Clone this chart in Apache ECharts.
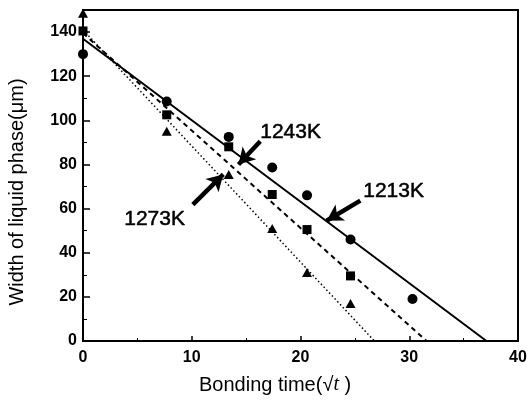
<!DOCTYPE html>
<html>
<head>
<meta charset="utf-8">
<script src="https://cdn.jsdelivr.net/npm/echarts@6/dist/echarts.min.js"></script>
<style>html,body{margin:0;padding:0;background:#fff}#c{width:530px;height:408px}</style>
</head>
<body>
<div id="c"></div>
<script>
// Measured points (x = sqrt(t), y = width of liquid phase, µm)
const data1213 = [[0,130],[7.7,108.5],[13.4,92.5],[17.4,78.6],[20.6,66],[24.6,46],[30.3,19]];
const data1243 = [[0,140.5],[7.7,102.5],[13.4,88],[17.4,66.4],[20.6,50.5],[24.6,29.5]];
const data1273 = [[0,148.5],[7.7,95],[13.4,75.5],[17.4,51],[20.6,31],[24.6,17]];
// Fitted lines (endpoints)
const fit1213 = [[0,137],[37.1,0]];
const fit1243 = [[0,139.5],[31.6,0]];
const fit1273 = [[0,141],[26.8,0]];
// Annotation arrows (tail -> head) in data coords
const arrows = [
  [[16.3,90.5],[14.3,80]],
  [[25.5,63.6],[22.4,54.5]],
  [[10.1,61.8],[12.9,75.5]]
];
const xTicks = {min:0, max:40, interval:10};
const yTicks = {min:0, max:150, interval:20};

const chart = echarts.init(document.getElementById('c'), null, {renderer:'canvas'});
const lab = {color:'#000', fontFamily:'Liberation Sans, Arial, sans-serif', fontWeight:'bold', fontSize:16};
const ann = {fill:'#000', font:'21px "Liberation Sans", Arial, sans-serif', stroke:'#000', lineWidth:0.5};
chart.setOption({
  animation:false,
  backgroundColor:'#fff',
  grid:{left:83, right:12, top:10, bottom:67, show:true, borderColor:'#000', borderWidth:2, backgroundColor:'transparent'},
  xAxis:{type:'value', min:xTicks.min, max:xTicks.max, interval:xTicks.interval,
    axisLine:{lineStyle:{color:'#000', width:2}},
    axisTick:{inside:true, length:5, lineStyle:{color:'#000', width:1.5}},
    minorTick:{show:true, splitNumber:2, length:3, lineStyle:{color:'#000', width:1}},
    splitLine:{show:false},
    axisLabel:Object.assign({margin:9, fontSize:15}, lab)
  },
  yAxis:{type:'value', min:yTicks.min, max:yTicks.max, interval:yTicks.interval,
    axisLine:{lineStyle:{color:'#000', width:2}},
    axisTick:{inside:true, length:7, lineStyle:{color:'#000', width:1.5}},
    minorTick:{show:true, splitNumber:2, length:4, lineStyle:{color:'#000', width:1}},
    splitLine:{show:false},
    axisLabel:Object.assign({margin:6, showMaxLabel:false}, lab)
  },
  series:[
    {type:'line', data:fit1213, symbol:'none', lineStyle:{color:'#000', width:2, type:'solid'},
     markLine:{silent:true, symbol:['none','arrow'], symbolSize:[14,16], label:{show:false},
       lineStyle:{color:'#000', width:4.5, type:'solid', opacity:1},
       data:arrows.map(a=>[{coord:a[0]},{coord:a[1]}])}},
    {type:'line', data:fit1243, symbol:'none', lineStyle:{color:'#000', width:2, type:[5,4]}},
    {type:'line', data:fit1273, symbol:'none', lineStyle:{color:'#000', width:1.5, type:[1.5,2.5]}},
    {type:'scatter', data:data1213, symbol:'circle', symbolSize:10, itemStyle:{color:'#000', opacity:1}},
    {type:'scatter', data:data1243, symbol:'rect', symbolSize:9, itemStyle:{color:'#000', opacity:1}},
    {type:'scatter', data:data1273, symbol:'triangle', symbolSize:[10,9], itemStyle:{color:'#000', opacity:1}}
  ],
  graphic:[
    {type:'text', left:260, top:121, style:Object.assign({text:'1243K'}, ann)},
    {type:'text', left:363, top:180, style:Object.assign({text:'1213K'}, ann)},
    {type:'text', left:124, top:208, style:Object.assign({text:'1273K'}, ann)},
    {type:'text', left:199, top:375, style:{text:'{a|Bonding time(√}{i|t}{a| )}', rich:{a:{fill:'#000', font:'20px "Liberation Sans", Arial, sans-serif'}, i:{fill:'#000', font:'italic 20px "Liberation Serif", serif'}}}},
    {type:'text', x:17, y:192, rotation:Math.PI/2, style:{text:'Width of liquid phase(μm)', fill:'#000', font:'20px "Liberation Sans", Arial, sans-serif', align:'center', verticalAlign:'middle'}}
  ]
});
</script>
</body>
</html>
